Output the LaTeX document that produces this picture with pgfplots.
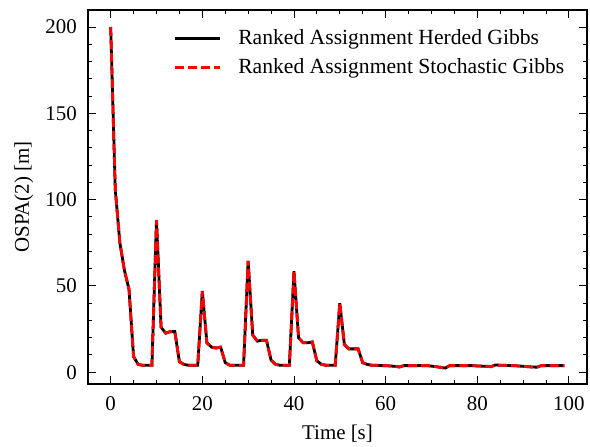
\documentclass[border=0pt]{standalone}
\usepackage{fontspec}
\setmainfont{Liberation Serif}
\usepackage{pgfplots}
\pgfplotsset{compat=1.18}
\begin{document}
\fontsize{21}{25}\selectfont
\begin{tikzpicture}
\useasboundingbox (-88bp,-63bp) rectangle (502bp,384bp);
\begin{axis}[
  scale only axis,
  width=499bp, height=374bp,
  xmin=-4.95, xmax=103.95,
  ymin=-6.85, ymax=209.85,
  xtick={0,20,...,100},
  ytick={0,50,...,200},
  minor x tick num=3,
  minor y tick num=4,
  tick align=inside,
  xtick pos=both, ytick pos=both,
  major tick length=8bp,
  minor tick length=4bp,
  every tick/.style={black, line width=0.9bp},
  axis line style={black, line width=1.2bp},
  /pgf/number format/assume math mode=true,
  ticklabel style={font=\fontsize{21}{25}\selectfont},
  xticklabel style={yshift=-5bp},
  yticklabel style={xshift=-4bp},
  label style={font=\fontsize{21}{25}\selectfont},
  xlabel={Time [s]},
  ylabel={OSPA(2) [m]},
  xlabel style={yshift=-1bp},
  ylabel style={yshift=-2bp},
  legend style={draw=none, fill=none, at={(rel axis cs:0.965,0.96)}, anchor=north east,
    font=\fontsize{21.7}{26}\selectfont, row sep=7bp},
  legend cell align=left,
  legend image code/.code={\draw[#1, line width=3bp] (0bp,0bp) -- (45bp,0bp); \path (60bp,0bp);},
]
\addplot[black, line width=2.8bp] table {
t v
0 200
1 106
2 75
3 59
4 48
5 9
6 4.5
7 4
8 4
9 4
10 88
11 26
12 22.6
13 23.5
14 23.5
15 6
16 4.5
17 4
18 4
19 4
20 47
21 17
22 14.5
23 14
24 14.5
25 5.5
26 4
27 4
28 4
29 4
30 64.5
31 21.5
32 18
33 18.5
34 18.5
35 7
36 4.5
37 4
38 4
39 4
40 58.5
41 20
42 17
43 17
44 17.5
45 6.5
46 4.5
47 4
48 4
49 4
50 40
51 16
52 13.5
53 13.5
54 13.5
55 5.5
56 4.5
57 4
58 4
59 3.8
60 3.8
61 3.6
62 3.4
63 3.0
64 3.8
65 3.8
66 3.8
67 3.8
68 3.8
69 3.8
70 3.5
71 3.2
72 2.8
73 2.4
74 3.8
75 3.8
76 3.8
77 3.8
78 3.8
79 3.8
80 3.6
81 3.5
82 3.4
83 3.2
84 4.2
85 4.0
86 4.0
87 3.8
88 3.8
89 3.6
90 3.4
91 3.2
92 3.0
93 2.9
94 3.8
95 3.8
96 3.8
97 3.8
98 3.8
99 3.8
};
\addlegendentry{Ranked Assignment Herded Gibbs}
\addplot[red, line width=2.8bp, dash pattern=on 9bp off 4bp] table {
t v
0 200
1 106
2 75
3 59
4 48
5 9
6 4.5
7 4
8 4
9 4
10 88
11 26
12 22.6
13 23.5
14 23.5
15 6
16 4.5
17 4
18 4
19 4
20 47
21 17
22 14.5
23 14
24 14.5
25 5.5
26 4
27 4
28 4
29 4
30 64.5
31 21.5
32 18
33 18.5
34 18.5
35 7
36 4.5
37 4
38 4
39 4
40 58.5
41 20
42 17
43 17
44 17.5
45 6.5
46 4.5
47 4
48 4
49 4
50 40
51 16
52 13.5
53 13.5
54 13.5
55 5.5
56 4.5
57 4
58 4
59 3.8
60 3.8
61 3.6
62 3.4
63 3.0
64 3.8
65 3.8
66 3.8
67 3.8
68 3.8
69 3.8
70 3.5
71 3.2
72 2.8
73 2.4
74 3.8
75 3.8
76 3.8
77 3.8
78 3.8
79 3.8
80 3.6
81 3.5
82 3.4
83 3.2
84 4.2
85 4.0
86 4.0
87 3.8
88 3.8
89 3.6
90 3.4
91 3.2
92 3.0
93 2.9
94 3.8
95 3.8
96 3.8
97 3.8
98 3.8
99 3.8
};
\addlegendentry{Ranked Assignment Stochastic Gibbs}
\end{axis}
\end{tikzpicture}
\end{document}
